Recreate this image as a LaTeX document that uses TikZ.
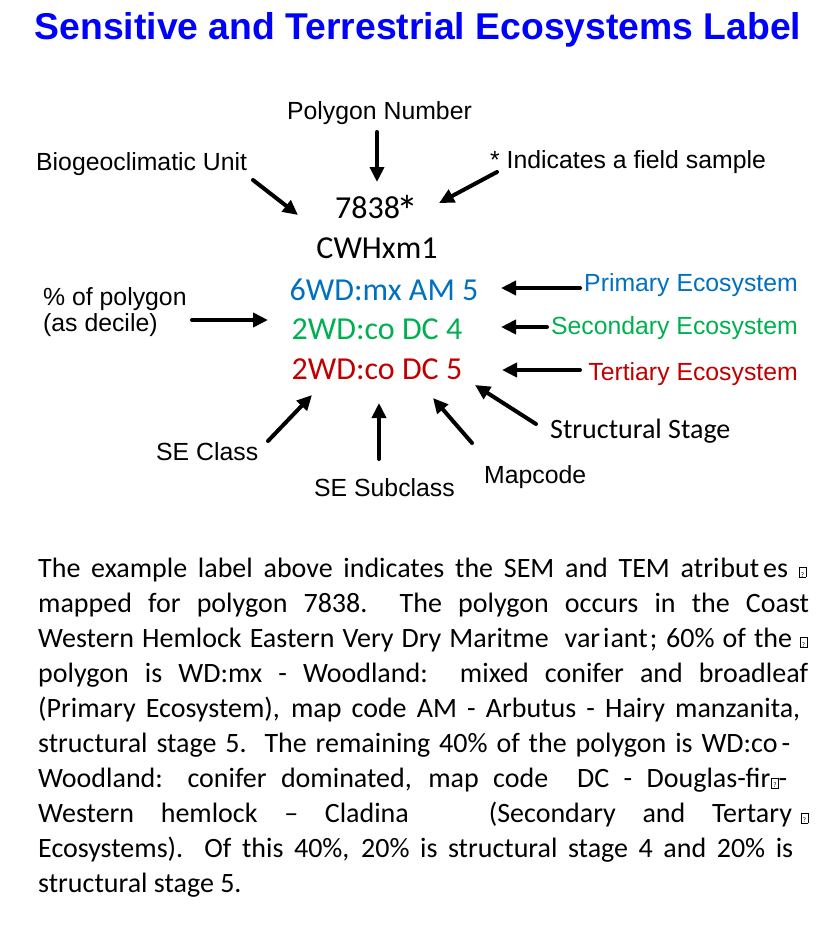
\documentclass[tikz,border=0pt]{standalone}
\usepackage{fontspec}
\setmainfont{Carlito}
\newfontfamily\arialf{Liberation Sans}
\usetikzlibrary{arrows.meta}
\definecolor{titleblue}{RGB}{0,0,255}
\definecolor{pblue}{RGB}{0,112,192}
\definecolor{sgreen}{RGB}{0,176,80}
\definecolor{tred}{RGB}{192,0,0}
\newcommand\qbox{{\fboxsep=0pt\fboxrule=0.6pt\fbox{\makebox[6pt]{\rule{0pt}{9.5pt}\fontsize{7}{7}\selectfont ?}}}}
\tikzset{
  lbl/.style={font=\arialf\fontsize{24.8}{26}\selectfont, inner sep=0pt},
  code/.style={font=\fontsize{32}{36}\selectfont, inner sep=0pt, anchor=base},
  para/.style={font=\fontsize{28}{35}\selectfont, inner sep=0pt, anchor=base west},
  arr/.style={line width=4pt, line cap=round, -{Triangle[length=15pt,width=14pt]}}
}
\begin{document}
\begin{tikzpicture}[x=1pt,y=-1pt]
\useasboundingbox (0,0) rectangle (820,932);
% title
\node[inner sep=0pt, anchor=base, text=titleblue, font=\arialf\bfseries\fontsize{37.3}{40}\selectfont] (title) at (418,39) {Sensitive and Terrestrial Ecosystems Label};
% label text
\node[code] (n7838) at (377,218) {7838\kern-3pt\raisebox{-8pt}{\fontsize{44}{44}\selectfont *}};
\node[code] (cwh) at (377,258) {CWHxm1};
\node[code, text=pblue] (e1) at (384,300) {6WD:mx AM 5};
\node[code, text=sgreen] (e2) at (377,339) {2WD:co DC 4};
\node[code, text=tred] (e3) at (377,379) {2WD:co DC 5};
% callout labels
\node[lbl, anchor=base] (polynum) at (379.5,119) {Polygon Number};
\node[lbl, anchor=base west] (bgc) at (36,170) {Biogeoclimatic Unit};
\node[lbl, anchor=base west] (field) at (490,168) {* Indicates a field sample};
\node[lbl, anchor=base west, align=left] (pct) at (43,331) {\% of polygon\\(as decile)};
\node[lbl, anchor=base east, text=pblue] (prim) at (798,291) {Primary Ecosystem};
\node[lbl, anchor=base east, text=sgreen] (sec) at (798,334) {Secondary Ecosystem};
\node[lbl, anchor=base east, text=tred] (ter) at (798,380) {Tertiary Ecosystem};
\node[lbl, anchor=base west] (seclass) at (156,460) {SE Class};
\node[lbl, anchor=base west] (sesub) at (314,496) {SE Subclass};
\node[lbl, anchor=base west] (mapc) at (484,483) {Mapcode};
\node[inner sep=0pt, anchor=base west, font=\fontsize{28}{30}\selectfont] (sstage) at (550,438) {Structural Stage};
% arrow end points
\coordinate (a1s) at (377,132); \coordinate (a1t) at (377,182);
\coordinate (a2s) at (253,180); \coordinate (a2t) at (298,215);
\coordinate (a3s) at (497,172); \coordinate (a3t) at (439,203);
\coordinate (a4s) at (192,320); \coordinate (a4t) at (268,320);
\coordinate (a5s) at (580,288); \coordinate (a5t) at (501,288);
\coordinate (a6s) at (547,327); \coordinate (a6t) at (501,327);
\coordinate (a7s) at (580,370); \coordinate (a7t) at (502,370);
\coordinate (a8s) at (268,441); \coordinate (a8t) at (312,395);
\coordinate (a9s) at (379,459); \coordinate (a9t) at (379,403);
\coordinate (a10s) at (472,443); \coordinate (a10t) at (433,398);
\coordinate (a11s) at (536,424); \coordinate (a11t) at (475,385);
\foreach \i in {1,...,11} { \draw[arr] (a\i s) -- (a\i t); }
% paragraph
\node[para] (p1) at (38,577) {\makebox[768pt][s]{The example label above indicates the SEM and TEM atri\hspace{1pt}but\hspace{4pt}es \qbox}};
\node[para] (p2) at (38,612.1) {\makebox[771pt][s]{mapped for polygon 7838.\ \ The polygon occurs in the Coast}};
\node[para] (p3) at (38,647.2) {\makebox[769pt][s]{Western Hemlock Eastern Very Dry Maritme\hspace{8pt} var\hspace{3pt}i\hspace{1pt}ant\hspace{2pt}; 60\% of the \qbox}};
\node[para] (p4) at (38,682.3) {\makebox[770pt][s]{polygon is WD:mx - Woodland:\ \ mixed conifer and broadleaf}};
\node[para] (p5) at (38,717.4) {\makebox[762pt][s]{(Primary Ecosystem), map code AM - Arbutus - Hairy manzanita,}};
\node[para] (p6) at (38,752.5) {\makebox[752pt][s]{structural stage 5.\ \ The remaining 40\% of the polygon is WD:co\hspace{4pt}-}};
\node[para] (p7) at (38,787.6) {\makebox[749pt][s]{Woodland: conifer dominated, map code\ \ DC -\ Douglas-fir\hspace{1pt}\qbox-}};
\node[para] (p8) at (38,822.7) {\makebox[770pt][s]{Western hemlock -- Cladina\ \ \ (Secondary and Tertary\hspace{9pt}\qbox}};
\node[para] (p9) at (38,857.8) {\makebox[755pt][s]{Ecosystems).\ \ Of this 40\%, 20\% is structural stage 4 and 20\% is}};
\node[para] (p10) at (38,892.9) {structural stage 5.};
\end{tikzpicture}
\end{document}
